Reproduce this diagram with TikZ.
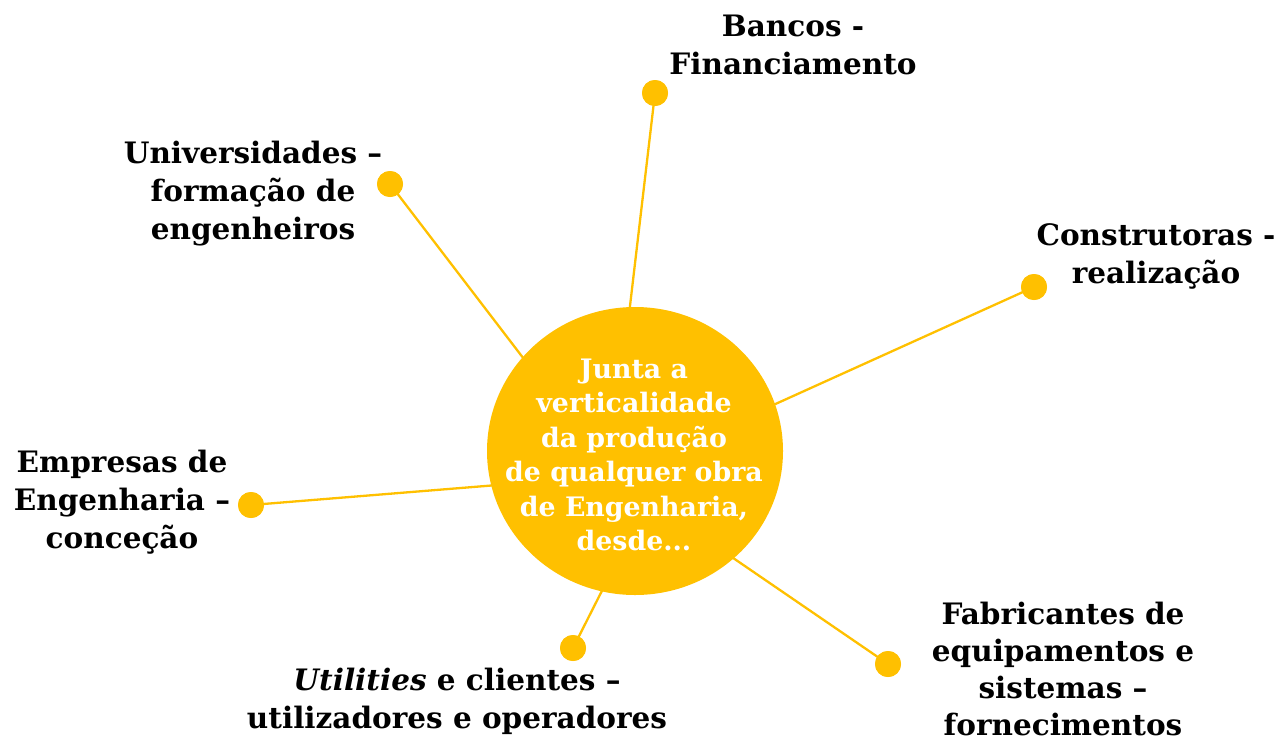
\documentclass[tikz,border=0pt]{standalone}
\usepackage{fontspec}
\usetikzlibrary{shapes.geometric}
\setmainfont{DejaVu Serif}
\definecolor{amber}{HTML}{FFC000}
\begin{document}
\begin{tikzpicture}[x=1pt,y=-1pt,
  conn/.style={draw=amber,line width=2.3pt},
  dot/.style={circle,fill=amber,inner sep=0pt,minimum size=26pt},
  lbl/.style={align=center,inner sep=0pt,font=\fontsize{29.5}{38}\selectfont\bfseries,text=black},
  hub/.style={ellipse,fill=amber,inner sep=0pt,minimum width=296pt,minimum height=288pt}]
\useasboundingbox (0,0) rectangle (1276,742);
% hub targets (hidden under the hub)
\coordinate (tB) at (626,340);
\coordinate (tU) at (540,380);
\coordinate (tC) at (760,411);
\coordinate (tE) at (510,484);
\coordinate (tT) at (615,565);
\coordinate (tF) at (720,549);
% dots
\node[dot] (dB) at (655,93) {};
\node[dot] (dU) at (390,184) {};
\node[dot] (dC) at (1034,287) {};
\node[dot] (dE) at (251,505) {};
\node[dot] (dT) at (573,648) {};
\node[dot] (dF) at (888,664) {};
% connectors
\draw[conn] (dB.center) -- (tB);
\draw[conn] (dU.center) -- (tU);
\draw[conn] (dC.center) -- (tC);
\draw[conn] (dE.center) -- (tE);
\draw[conn] (dT.center) -- (tT);
\draw[conn] (dF.center) -- (tF);
% redraw dots on top
\node[dot] at (dB) {};
\node[dot] at (dU) {};
\node[dot] at (dC) {};
\node[dot] at (dE) {};
\node[dot] at (dT) {};
\node[dot] at (dF) {};
% hub
\node[hub] (hub) at (635,451) {};
\node[align=center,inner sep=0pt,text=white,font=\fontsize{26.8}{34.5}\selectfont\bfseries] (hubtext) at (634,455)
  {Junta a\\verticalidade\\da produção\\de qualquer obra\\de Engenharia,\\desde...};
% labels
\node[lbl] (lB) at (793,45) {Bancos -\\Financiamento};
\node[lbl] (lU) at (253,194) {Universidades –\\formação de\\engenheiros};
\node[lbl] (lC) at (1156,256) {Construtoras -\\realização};
\node[lbl] (lE) at (122,502) {Empresas de\\Engenharia –\\conceção};
\node[lbl] (lT) at (457,701) {\textit{Utilities} e clientes –\\utilizadores e operadores};
\node[lbl,font=\fontsize{29.5}{37}\selectfont\bfseries] (lF) at (1063,669) {Fabricantes de\\equipamentos e\\sistemas –\\fornecimentos};
\end{tikzpicture}
\end{document}
